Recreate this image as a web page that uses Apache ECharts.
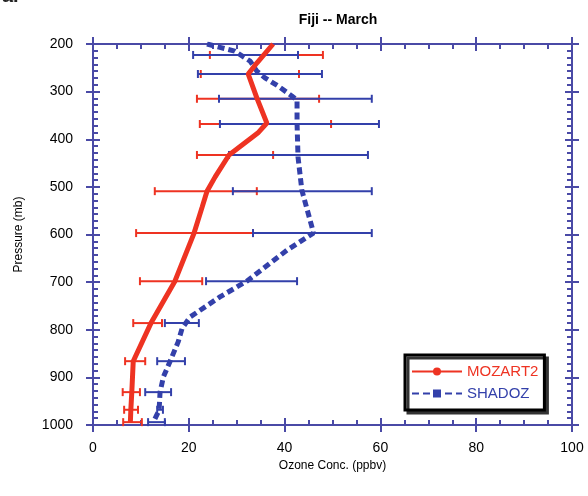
<!DOCTYPE html>
<html>
<head>
<meta charset="utf-8">
<script src="https://cdn.jsdelivr.net/npm/echarts@6/dist/echarts.min.js"></script>
<style>
  html, body { margin: 0; padding: 0; background: #fff; }
  #chart { width: 588px; height: 496px; }
</style>
</head>
<body>
<div id="chart"></div>
<script>
// MOZART2 profile (ozone ppbv vs pressure mb)
const mozartP = [200, 240, 263, 313, 366, 387, 433, 479, 509, 542, 597, 698, 786, 866, 931, 968, 994];
const mozartO = [37.6, 34.2, 32.4, 34.2, 36.3, 34.4, 28.4, 25.5, 23.8, 22.8, 21.1, 17.1, 12.1, 8.4, 8.1, 7.9, 7.8];

// SHADOZ sonde profile
const shadozP = [200, 206, 215, 236, 257, 271, 288, 309, 318, 366, 437, 507, 584, 597, 633, 698, 731, 773, 797, 825, 866, 899, 931, 969, 994];
const shadozO = [23.8, 26.1, 29.6, 32.8, 34.2, 35.9, 38.6, 41.5, 42.6, 42.6, 42.8, 43.6, 45.7, 46.0, 40.5, 32.1, 26.5, 20.3, 18.6, 17.8, 16.1, 14.7, 14.0, 13.8, 12.6];

// error bars (low / high) at each level
const barP = [223, 263, 315, 368, 433, 509, 597, 698, 786, 866, 931, 968, 994];
const mozartLo = [24.4, 22.5, 21.7, 22.3, 21.7, 12.9, 9.0, 9.8, 8.4, 6.7, 6.2, 6.5, 6.3];
const mozartHi = [48.0, 43.0, 47.2, 49.7, 37.6, 34.2, 33.4, 22.8, 14.4, 10.9, 9.8, 9.4, 10.2];
const shadozLo = [20.9, 21.9, 26.3, 26.5, 28.4, 29.2, 33.4, 23.6, 15.0, 13.4, 10.9, 13.4, 11.5];
const shadozHi = [42.8, 47.8, 58.2, 59.7, 57.4, 58.2, 58.2, 42.6, 22.1, 19.2, 16.3, 14.6, 15.0];

const RED = '#ee3322';
const BLUE = '#3340aa';
const AXIS = '#4a4aa6';
const FONT = 'Liberation Sans';

const chart = echarts.init(document.getElementById('chart'));

function xAx(pos, inside, extra) {
  return Object.assign({
    type: 'value', position: pos, min: 0, max: 100, interval: 20,
    axisLine: { onZero: false, lineStyle: { color: AXIS, width: 2 } },
    axisTick: { inside: inside, length: 7, lineStyle: { color: AXIS, width: 2 } },
    minorTick: { show: inside, splitNumber: 4, length: 5, lineStyle: { color: AXIS, width: 2 } },
    axisLabel: { show: false },
    splitLine: { show: false }
  }, extra || {});
}

function yAx(pos, inside, extra) {
  return Object.assign({
    type: 'value', position: pos, inverse: true, min: 200, max: 1000, interval: 100,
    axisLine: { onZero: false, lineStyle: { color: AXIS, width: 2 } },
    axisTick: { inside: inside, length: 7, lineStyle: { color: AXIS, width: 2 } },
    minorTick: { show: inside, splitNumber: 7, length: 5, lineStyle: { color: AXIS, width: 2 } },
    axisLabel: { show: false },
    splitLine: { show: false }
  }, extra || {});
}

function errBars(lo, hi, color) {
  return {
    type: 'custom',
    name: color === RED ? 'MOZART2 range' : 'SHADOZ range',
    xAxisIndex: 0, yAxisIndex: 0,
    data: barP.map((p, i) => [lo[i], hi[i], p]),
    encode: { x: [0, 1], y: 2 },
    z: color === RED ? 2 : 3,
    silent: true,
    renderItem: function (params, api) {
      const a = api.coord([api.value(0), api.value(2)]);
      const b = api.coord([api.value(1), api.value(2)]);
      const st = { stroke: color, lineWidth: 2 };
      return {
        type: 'group',
        children: [
          { type: 'line', shape: { x1: a[0], y1: a[1], x2: b[0], y2: b[1] }, style: st },
          { type: 'line', shape: { x1: a[0], y1: a[1] - 4, x2: a[0], y2: a[1] + 4 }, style: st },
          { type: 'line', shape: { x1: b[0], y1: b[1] - 4, x2: b[0], y2: b[1] + 4 }, style: st }
        ]
      };
    }
  };
}

chart.setOption({
  animation: false,
  textStyle: { fontFamily: FONT },
  title: {
    text: 'Fiji -- March',
    left: 333, top: 8, textAlign: 'center',
    textStyle: { fontSize: 14, fontWeight: 'bold', color: '#000', fontFamily: FONT }
  },
  graphic: [{
    type: 'text', left: 2, top: -14,
    style: { text: 'a.', font: 'bold 20px "Liberation Sans"', fill: '#222' }
  }],
  grid: { left: 93, right: 16, top: 44, bottom: 71 },
  xAxis: [
    xAx('bottom', false, {
      axisLabel: { show: true, margin: 16, fontSize: 14, color: '#000', fontFamily: FONT },
      name: 'Ozone Conc. (ppbv)', nameLocation: 'middle', nameGap: 31,
      nameTextStyle: { fontSize: 12, color: '#000', fontFamily: FONT }
    }),
    xAx('bottom', true),
    xAx('top', false),
    xAx('top', true)
  ],
  yAxis: [
    yAx('left', false, {
      axisLabel: { show: true, margin: 20, fontSize: 14, color: '#000', fontFamily: FONT,
        formatter: v => String(v) },
      name: 'Pressure (mb)', nameLocation: 'middle', nameGap: 68,
      nameTextStyle: { fontSize: 12, color: '#000', fontFamily: FONT }
    }),
    yAx('left', true),
    yAx('right', false),
    yAx('right', true)
  ],
  legend: {
    left: 405, top: 355,
    orient: 'vertical',
    itemWidth: 50, itemHeight: 10, itemGap: 7,
    padding: [9, 6, 9, 6],
    borderColor: '#000', borderWidth: 3,
    backgroundColor: '#fff',
    shadowColor: '#333', shadowBlur: 0, shadowOffsetX: 3, shadowOffsetY: 3,
    textStyle: { fontSize: 15, fontFamily: FONT },
    data: [
      { name: 'MOZART2', textStyle: { color: RED } },
      { name: 'SHADOZ', textStyle: { color: BLUE } }
    ]
  },
  series: [
    errBars(mozartLo, mozartHi, RED),
    errBars(shadozLo, shadozHi, BLUE),
    {
      name: 'SHADOZ', type: 'line',
      data: shadozP.map((p, i) => [shadozO[i], p]),
      showSymbol: false, symbol: 'rect', symbolSize: 8,
      lineStyle: { color: BLUE, width: 5, type: [7, 4] },
      itemStyle: { color: BLUE },
      z: 4
    },
    {
      name: 'MOZART2', type: 'line',
      data: mozartP.map((p, i) => [mozartO[i], p]),
      showSymbol: false, symbol: 'circle', symbolSize: 8,
      lineStyle: { color: RED, width: 5 },
      itemStyle: { color: RED },
      z: 5
    }
  ]
});
</script>
</body>
</html>
